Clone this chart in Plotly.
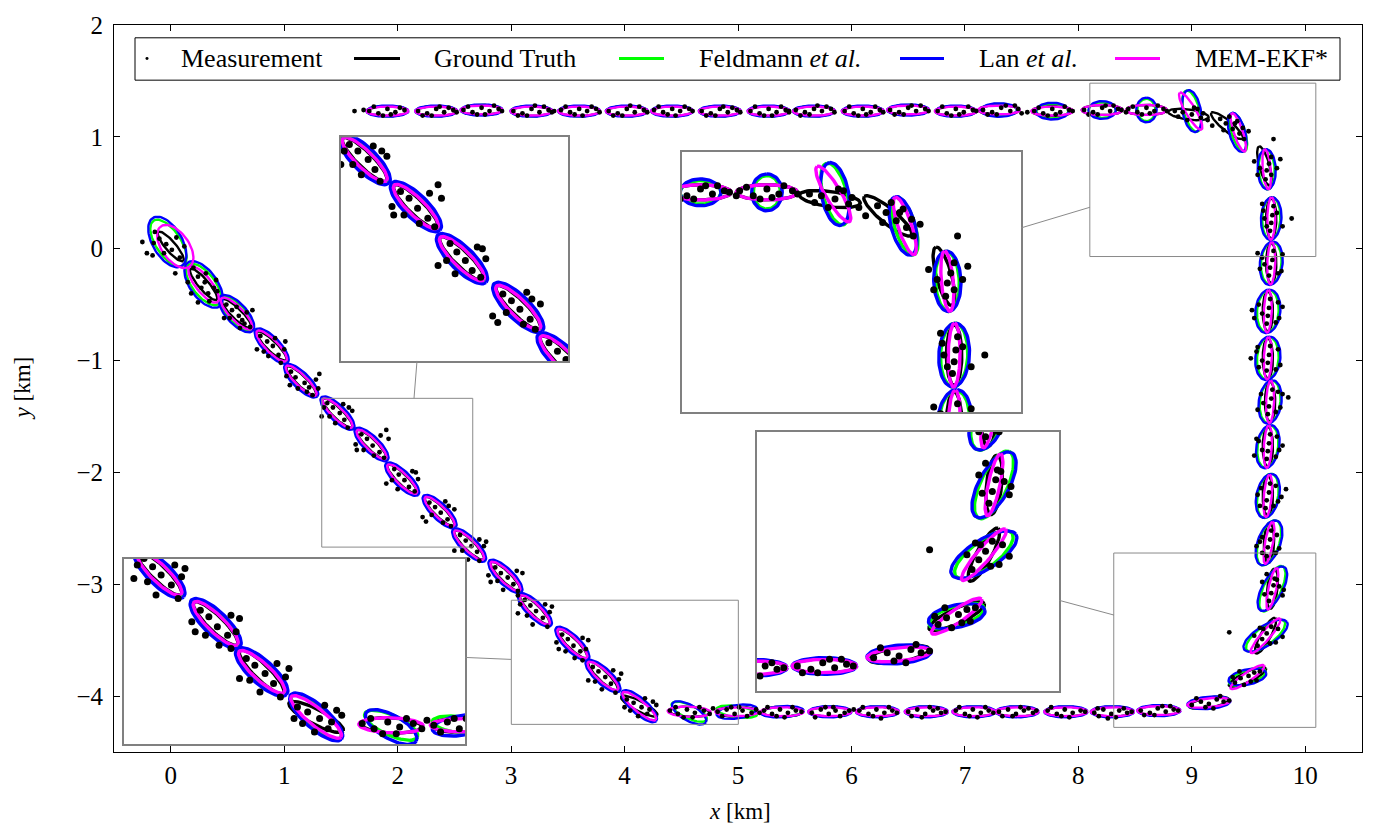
import numpy as np
import plotly.graph_objects as go

# ---------------- ground-truth track (one entry per time step) ----------------
gt_x = [0.00, 0.29, 0.58, 0.89, 1.15, 1.47, 1.77, 2.04, 2.37, 2.63, 2.95, 3.21, 3.54, 3.81, 4.13,
        4.57, 4.99, 5.39, 5.81, 6.23, 6.66, 7.08, 7.46, 7.89, 8.30, 8.71, 9.15,
        9.49, 9.65, 9.71, 9.68, 9.67, 9.67, 9.69, 9.67, 9.67, 9.70, 9.70, 9.64, 9.31, 8.97,
        8.60, 8.21, 7.77, 7.30, 6.92, 6.50, 6.10, 5.67, 5.27, 4.84, 4.42, 4.02, 3.60, 3.18, 2.74, 2.34, 1.91]
gt_y = [0.02, -0.32, -0.58, -0.87, -1.18, -1.47, -1.75, -2.06, -2.35, -2.65, -2.93, -3.23, -3.53, -3.82, -4.09,
        -4.14, -4.14, -4.14, -4.14, -4.14, -4.14, -4.14, -4.14, -4.14, -4.14, -4.13, -4.06,
        -3.83, -3.46, -3.04, -2.63, -2.21, -1.77, -1.37, -0.98, -0.56, -0.13, 0.27, 0.74, 1.10, 1.20,
        1.24, 1.24, 1.23, 1.24, 1.23, 1.24, 1.23, 1.23, 1.23, 1.23, 1.23, 1.23, 1.23, 1.23, 1.24, 1.23, 1.23]
gt_ang = [-50, -50, -45, -45, -45, -45, -45, -45, -45, -45, -45, -45, -45, -45, -28,
          -3, 0, 0, 0, 0, 0, 0, 0, 0, 0, 0, 10,
          25, 62, 84, 88, 90, 90, 90, 90, 90, 90, 90, 105, 140, 172,
          0, 0, 0, 0, 0, 0, 0, 0, 0, 0, 0, 0, 0, 0, 0, 0, 0]
gt_a = [0.17] + [0.18] * 57
gt_b = [0.045] * 58

# ---------------- Feldmann et al. ----------------
fel_a = ([0.24, 0.22, 0.20, 0.195, 0.195, 0.19, 0.19, 0.19, 0.19, 0.19, 0.19, 0.19, 0.19, 0.19, 0.19]
         + [0.17, 0.18, 0.18, 0.18, 0.18, 0.18, 0.18, 0.18, 0.18, 0.18, 0.18, 0.185]
         + [0.17, 0.21, 0.22, 0.21, 0.20, 0.19, 0.19, 0.19, 0.19, 0.19, 0.19, 0.18, 0.18, 0.19]
         + [0.10, 0.12, 0.14, 0.16, 0.175, 0.18, 0.18, 0.18, 0.18, 0.18, 0.18, 0.18, 0.18, 0.18, 0.18, 0.18, 0.18])
fel_b = ([0.11, 0.10, 0.08, 0.065, 0.065, 0.06, 0.06, 0.06, 0.06, 0.06, 0.06, 0.06, 0.06, 0.06, 0.06]
         + [0.06, 0.05, 0.045, 0.045, 0.045, 0.045, 0.045, 0.045, 0.045, 0.045, 0.045, 0.05]
         + [0.06, 0.08, 0.08, 0.09, 0.09, 0.09, 0.09, 0.095, 0.095, 0.09, 0.08, 0.07, 0.06, 0.07]
         + [0.08, 0.07, 0.065, 0.055, 0.045, 0.045, 0.045, 0.045, 0.045, 0.045, 0.045, 0.045, 0.045, 0.045, 0.045, 0.045, 0.045])
fel_ang = ([-57, -53, -47, -47, -45, -45, -45, -45, -45, -45, -45, -45, -45, -43, -42]
           + [-25, -8, 2, 0, 0, 0, 0, 0, 0, 0, 0, 6]
           + [18, 38, 66, 72, 80, 82, 84, 86, 86, 86, 88, 93, 107, 105]
           + [90, 0, 0, 0, 0, 0, 0, 0, 0, 0, 0, 0, 0, 0, 0, 0, 0])
fel_shift = {0: (-0.02, 0.03), 38: (0.02, -0.03), 39: (0.10, -0.06), 40: (0.03, 0.03)}

# ---------------- Lan et al. ----------------
lan_a = ([0.25, 0.24, 0.21, 0.205, 0.20, 0.20, 0.20, 0.20, 0.20, 0.20, 0.20, 0.20, 0.20, 0.20, 0.20]
         + [0.17, 0.18, 0.19, 0.19, 0.19, 0.19, 0.19, 0.19, 0.19, 0.19, 0.19, 0.19]
         + [0.17, 0.225, 0.22, 0.21, 0.20, 0.195, 0.195, 0.195, 0.195, 0.195, 0.19, 0.18, 0.18, 0.19]
         + [0.11, 0.12, 0.145, 0.16, 0.18, 0.185, 0.185, 0.185, 0.185, 0.185, 0.185, 0.185, 0.185, 0.185, 0.185, 0.185, 0.185])
lan_b = ([0.13, 0.12, 0.09, 0.075, 0.072, 0.07, 0.07, 0.07, 0.07, 0.07, 0.07, 0.07, 0.07, 0.07, 0.07]
         + [0.07, 0.06, 0.05, 0.05, 0.05, 0.05, 0.05, 0.05, 0.05, 0.05, 0.05, 0.055]
         + [0.068, 0.088, 0.09, 0.10, 0.10, 0.10, 0.10, 0.11, 0.11, 0.10, 0.09, 0.08, 0.07, 0.08]
         + [0.09, 0.08, 0.075, 0.06, 0.05, 0.05, 0.05, 0.05, 0.05, 0.05, 0.05, 0.05, 0.05, 0.05, 0.05, 0.05, 0.05])
lan_ang = ([-60, -55, -48, -47, -45, -45, -45, -45, -45, -45, -45, -45, -45, -43, -42]
           + [-30, 8, 3, 0, 0, 0, 0, 0, 0, 0, 0, 5]
           + [12, 33, 62, 70, 78, 80, 82, 84, 84, 84, 87, 92, 105, 100]
           + [90, 0, 0, 0, 0, 0, 0, 0, 0, 0, 0, 0, 0, 0, 0, 0, 0])
lan_shift = {0: (-0.03, 0.04), 15: (0.0, -0.01), 38: (0.02, -0.03), 39: (0.09, -0.06), 40: (0.03, 0.03)}

# ---------------- MEM-EKF* ----------------
mem_a = ([0.22, 0.20, 0.19, 0.185, 0.185, 0.18, 0.18, 0.18, 0.18, 0.18, 0.18, 0.18, 0.18, 0.18, 0.19]
         + [0.19, 0.19, 0.19, 0.19, 0.19, 0.19, 0.19, 0.19, 0.19, 0.19, 0.19, 0.19]
         + [0.18, 0.20, 0.19, 0.19, 0.19, 0.19, 0.19, 0.19, 0.19, 0.19, 0.19, 0.18, 0.18, 0.19]
         + [0.18, 0.18, 0.185, 0.185, 0.185, 0.185, 0.185, 0.185, 0.185, 0.185, 0.185, 0.185, 0.185, 0.185, 0.185, 0.185, 0.185])
mem_b = ([0.12, 0.07, 0.06, 0.055, 0.05, 0.05, 0.05, 0.05, 0.05, 0.05, 0.05, 0.05, 0.05, 0.05, 0.05]
         + [0.045, 0.04, 0.04, 0.04, 0.04, 0.04, 0.04, 0.04, 0.04, 0.04, 0.04, 0.04]
         + [0.04, 0.04, 0.035, 0.035, 0.035, 0.035, 0.035, 0.035, 0.035, 0.035, 0.035, 0.035, 0.04, 0.045]
         + [0.045, 0.045, 0.04, 0.04, 0.04, 0.04, 0.04, 0.04, 0.04, 0.04, 0.04, 0.04, 0.04, 0.04, 0.04, 0.04, 0.04])
mem_ang = ([-55, -52, -46, -46, -45, -45, -45, -45, -45, -45, -45, -45, -45, -43, -40]
           + [-2, 0, 0, 0, 0, 0, 0, 0, 0, 0, 0, 6]
           + [35, 50, 78, 80, 85, 87, 88, 88, 88, 88, 89, 95, 108, 120]
           + [0, 0, 0, 0, 0, 0, 0, 0, 0, 0, 0, 0, 0, 0, 0, 0, 0])
mem_shift = {0: (0.04, 0.0), 38: (0.02, -0.03), 39: (0.10, -0.06), 40: (0.02, 0.03)}

# ---------------- measurements ----------------
meas_x = [
    # diagonal leg
    -0.21, -0.16, -0.15, -0.04, 0.01, 0.05, 0.04, -0.10, 0.08, -0.06,
    0.20, 0.24, 0.30, 0.33, 0.27, 0.40, 0.18, 0.38, 0.31, 0.24,
    0.49, 0.54, 0.60, 0.63, 0.67, 0.52, 0.70, 0.58, 0.65,
    0.79, 0.85, 0.90, 0.95, 0.82, 1.00, 0.92, 0.86,
    1.06, 1.10, 1.18, 1.22, 1.02, 1.28, 1.20, 1.12, 1.30,
    1.38, 1.43, 1.49, 1.53, 1.40, 1.57, 1.45, 1.35, 1.52,
    1.68, 1.73, 1.78, 1.84, 1.70, 1.85, 1.63, 1.79, 1.90,
    1.97, 2.01, 2.06, 2.10, 1.95, 2.13, 2.00, 2.18,
    2.28, 2.33, 2.38, 2.44, 2.30, 2.45, 2.25, 2.40, 2.42,
    2.55, 2.60, 2.65, 2.70, 2.57, 2.72, 2.62, 2.76,
    2.86, 2.91, 2.97, 3.02, 2.88, 3.05, 2.93, 2.80, 3.06,
    3.12, 3.17, 3.22, 3.28, 3.14, 3.30, 3.19, 3.34, 3.08,
    3.45, 3.50, 3.55, 3.61, 3.48, 3.63, 3.56, 3.40, 3.66,
    3.72, 3.77, 3.83, 3.88, 3.74, 3.90, 3.80, 3.95,
    4.02, 4.08, 4.15, 4.22, 4.05, 4.18, 4.25, 4.12,
    # bottom leg
    4.40, 4.47, 4.55, 4.62, 4.70, 4.52, 4.66, 4.75,
    4.82, 4.90, 4.97, 5.04, 5.12, 4.94, 5.08, 5.16,
    5.23, 5.30, 5.37, 5.44, 5.51, 5.34, 5.48,
    5.65, 5.73, 5.80, 5.86, 5.94, 5.77, 5.90,
    6.07, 6.15, 6.22, 6.29, 6.36, 6.19, 6.33, 6.02,
    6.50, 6.58, 6.65, 6.72, 6.79, 6.62, 6.76,
    6.92, 7.00, 7.07, 7.14, 7.21, 7.04, 7.18,
    7.30, 7.38, 7.45, 7.52, 7.60, 7.42, 7.56,
    7.73, 7.81, 7.88, 7.95, 8.02, 7.85,
    8.14, 8.22, 8.29, 8.36, 8.43, 8.26, 8.40, 8.18,
    8.55, 8.63, 8.70, 8.77, 8.84, 8.67, 8.81,
    9.00, 9.08, 9.15, 9.22, 9.28, 9.12, 9.25,
    # right leg
    9.38, 9.43, 9.50, 9.55, 9.46, 9.60, 9.52,
    9.58, 9.62, 9.66, 9.70, 9.55, 9.76, 9.74, 9.33, 9.63,
    9.68, 9.70, 9.72, 9.73, 9.62, 9.80, 9.66, 9.77,
    9.66, 9.67, 9.69, 9.70, 9.60, 9.77, 9.62, 9.75,
    9.65, 9.66, 9.68, 9.69, 9.58, 9.76, 9.60, 9.74, 9.83,
    9.66, 9.67, 9.68, 9.69, 9.59, 9.77, 9.55, 9.75, 9.80,
    9.67, 9.68, 9.70, 9.71, 9.61, 9.78, 9.58, 9.76, 9.85,
    9.66, 9.67, 9.68, 9.69, 9.57, 9.78, 9.59, 9.76, 9.52,
    9.66, 9.67, 9.68, 9.69, 9.59, 9.77, 9.55, 9.76, 9.53,
    9.68, 9.69, 9.71, 9.72, 9.62, 9.79, 9.60, 9.80,
    9.69, 9.70, 9.71, 9.72, 9.63, 9.80, 9.66, 9.88,
    9.65, 9.66, 9.68, 9.70, 9.58, 9.75, 9.72, 9.55,
    9.25, 9.30, 9.36, 9.42, 9.40, 9.46, 9.50, 9.33,
    8.85, 8.92, 9.00, 9.08, 9.14, 9.05, 8.96, 9.18,
    # top leg
    8.44, 8.52, 8.60, 8.67, 8.75, 8.56, 8.70,
    8.05, 8.13, 8.21, 8.28, 8.35, 8.17, 8.31, 8.42,
    7.61, 7.69, 7.77, 7.84, 7.92, 7.73, 7.88,
    7.16, 7.24, 7.32, 7.40, 7.47, 7.28, 7.44, 7.55,
    6.76, 6.84, 6.92, 6.99, 7.07, 6.88, 7.03,
    6.34, 6.42, 6.50, 6.57, 6.65, 6.46, 6.61,
    5.94, 6.02, 6.10, 6.17, 6.25, 6.06, 6.21,
    5.51, 5.59, 5.67, 5.74, 5.82, 5.63, 5.78, 5.45,
    5.11, 5.19, 5.27, 5.34, 5.42, 5.23, 5.38,
    4.68, 4.76, 4.84, 4.91, 4.99, 4.80, 4.95,
    4.26, 4.34, 4.42, 4.49, 4.57, 4.38, 4.53,
    3.86, 3.94, 4.02, 4.09, 4.17, 3.98, 4.13,
    3.44, 3.52, 3.60, 3.67, 3.75, 3.56, 3.71, 3.38,
    3.02, 3.10, 3.18, 3.25, 3.33, 3.14, 3.29,
    2.58, 2.66, 2.74, 2.81, 2.89, 2.70, 2.85,
    2.18, 2.26, 2.34, 2.41, 2.49, 2.30, 2.45,
    1.75, 1.83, 1.91, 1.98, 2.06, 1.87, 2.02, 1.70,
    # wider scatter around each step
    -0.14, 0.12, -0.25, 0.15, 0.41, 0.34, 0.47, 0.72, 0.61, 0.76, 1.01, 0.97,
    1.05, 1.31, 1.25, 1.33, 1.60, 1.56, 1.64, 1.92, 1.88, 1.90, 2.16, 2.15,
    2.22, 2.50, 2.47, 2.50, 2.78, 2.72, 2.82, 3.10, 3.06, 3.06, 3.36, 3.32,
    3.42, 3.68, 3.63, 3.68, 3.97, 3.92, 4.00, 4.28, 4.20,
    4.45, 4.60, 4.78, 4.86, 5.01, 5.19, 5.26, 5.41, 5.56, 5.68, 5.84, 5.98,
    6.10, 6.26, 6.40, 6.53, 6.69, 6.83, 6.95, 7.11, 7.25, 7.33, 7.49, 7.63,
    7.76, 7.92, 8.06, 8.17, 8.33, 8.47, 8.58, 8.74, 8.88, 9.04, 9.19, 9.33,
    9.42, 9.57, 9.36, 9.60, 9.69, 9.80, 9.64, 9.75, 9.81, 9.62, 9.74, 9.57,
    9.72, 9.61, 9.79, 9.62, 9.74, 9.57, 9.74, 9.63, 9.80, 9.62, 9.74, 9.58,
    9.74, 9.62, 9.80, 9.64, 9.76, 9.58, 9.75, 9.64, 9.62, 9.70, 9.60, 9.78,
    9.28, 9.38, 9.45, 8.88, 9.02, 9.10,
    8.48, 8.63, 8.78, 8.09, 8.24, 8.38, 7.65, 7.80, 7.95, 7.20, 7.36, 7.50,
    6.80, 6.95, 7.10, 6.38, 6.53, 6.68, 5.98, 6.13, 6.28, 5.55, 5.70, 5.85,
    5.15, 5.30, 5.45, 4.72, 4.87, 5.02, 4.30, 4.45, 4.60, 3.90, 4.05, 4.20,
    3.48, 3.63, 3.78, 3.06, 3.21, 3.36, 2.62, 2.77, 2.92, 2.22, 2.37, 2.52,
    1.79, 1.94, 1.62,
]
meas_y = [
    # diagonal leg
    -0.04, -0.06, 0.05, 0.04, -0.01, 0.10, -0.22, 0.09, -0.08, -0.04,
    -0.17, -0.25, -0.30, -0.40, -0.35, -0.28, -0.40, -0.35, -0.22, -0.48,
    -0.50, -0.55, -0.60, -0.64, -0.57, -0.62, -0.70, -0.52, -0.67,
    -0.78, -0.83, -0.87, -0.95, -0.92, -0.90, -0.80, -0.96,
    -1.10, -1.15, -1.20, -1.24, -1.14, -1.17, -1.28, -1.25, -1.25,
    -1.38, -1.42, -1.47, -1.53, -1.50, -1.42, -1.56, -1.42, -1.39,
    -1.66, -1.70, -1.76, -1.82, -1.80, -1.67, -1.75, -1.85, -1.62,
    -1.97, -2.02, -2.07, -2.13, -2.07, -1.99, -2.15, -2.06,
    -2.27, -2.31, -2.36, -2.42, -2.38, -2.30, -2.44, -2.45, -2.26,
    -2.56, -2.61, -2.66, -2.71, -2.70, -2.60, -2.78, -2.66,
    -2.85, -2.90, -2.94, -3.00, -2.97, -2.88, -3.05, -2.92, -3.06,
    -3.14, -3.19, -3.24, -3.30, -3.28, -3.18, -3.36, -3.25, -3.18,
    -3.45, -3.49, -3.55, -3.60, -3.60, -3.48, -3.66, -3.52, -3.58,
    -3.74, -3.78, -3.83, -3.89, -3.87, -3.77, -3.94, -3.85,
    -4.03, -4.06, -4.10, -4.12, -4.13, -4.02, -4.05, -4.18,
    # bottom leg
    -4.13, -4.16, -4.12, -4.15, -4.13, -4.19, -4.10, -4.16,
    -4.14, -4.12, -4.16, -4.13, -4.15, -4.10, -4.18, -4.12,
    -4.13, -4.16, -4.12, -4.15, -4.13, -4.18, -4.10,
    -4.15, -4.12, -4.16, -4.13, -4.15, -4.10, -4.18,
    -4.13, -4.16, -4.12, -4.15, -4.13, -4.18, -4.10, -4.12,
    -4.14, -4.12, -4.16, -4.13, -4.15, -4.19, -4.11,
    -4.13, -4.16, -4.12, -4.15, -4.13, -4.18, -4.10,
    -4.14, -4.12, -4.16, -4.13, -4.15, -4.18, -4.11,
    -4.13, -4.16, -4.12, -4.15, -4.13, -4.18,
    -4.15, -4.12, -4.16, -4.13, -4.15, -4.20, -4.11, -4.18,
    -4.13, -4.15, -4.11, -4.14, -4.12, -4.17, -4.09,
    -4.08, -4.05, -4.07, -4.03, -4.05, -4.10, -4.00,
    # right leg
    -3.88, -3.84, -3.82, -3.79, -3.90, -3.78, -3.87,
    -3.55, -3.49, -3.44, -3.38, -3.46, -3.40, -3.52, -3.43, -3.40,
    -3.15, -3.08, -3.01, -2.95, -2.98, -3.10, -2.91, -3.02,
    -2.75, -2.67, -2.60, -2.52, -2.62, -2.68, -2.72, -2.56,
    -2.32, -2.25, -2.18, -2.10, -2.20, -2.26, -2.30, -2.12, -2.15,
    -1.88, -1.81, -1.74, -1.66, -1.72, -1.80, -1.85, -1.68, -1.76,
    -1.48, -1.41, -1.34, -1.26, -1.30, -1.42, -1.44, -1.28, -1.33,
    -1.09, -1.02, -0.95, -0.87, -0.92, -1.04, -1.06, -0.90, -0.98,
    -0.67, -0.60, -0.53, -0.45, -0.50, -0.62, -0.62, -0.48, -0.55,
    -0.24, -0.17, -0.10, -0.02, -0.08, -0.20, -0.18, -0.05,
    0.16, 0.23, 0.30, 0.38, 0.34, 0.20, 0.20, 0.27,
    0.62, 0.70, 0.76, 0.82, 0.66, 0.72, 0.98, 0.78,
    1.16, 1.12, 1.07, 1.03, 1.14, 0.98, 1.05, 1.18,
    1.23, 1.22, 1.20, 1.17, 1.15, 1.25, 1.15, 1.10,
    # top leg
    1.25, 1.22, 1.26, 1.23, 1.25, 1.20, 1.28,
    1.24, 1.22, 1.26, 1.23, 1.25, 1.20, 1.28, 1.22,
    1.23, 1.21, 1.25, 1.22, 1.24, 1.19, 1.27,
    1.24, 1.22, 1.26, 1.23, 1.25, 1.20, 1.28, 1.22,
    1.23, 1.21, 1.25, 1.22, 1.24, 1.19, 1.27,
    1.24, 1.22, 1.26, 1.23, 1.25, 1.20, 1.28,
    1.23, 1.21, 1.25, 1.22, 1.24, 1.19, 1.27,
    1.24, 1.22, 1.25, 1.23, 1.25, 1.20, 1.27, 1.22,
    1.23, 1.21, 1.25, 1.22, 1.24, 1.19, 1.27,
    1.23, 1.21, 1.25, 1.22, 1.24, 1.19, 1.26,
    1.24, 1.22, 1.25, 1.23, 1.25, 1.20, 1.27,
    1.23, 1.21, 1.25, 1.22, 1.24, 1.19, 1.27,
    1.24, 1.22, 1.25, 1.23, 1.25, 1.20, 1.27, 1.23,
    1.23, 1.21, 1.25, 1.22, 1.24, 1.19, 1.27,
    1.24, 1.22, 1.26, 1.23, 1.25, 1.20, 1.28,
    1.23, 1.21, 1.25, 1.22, 1.24, 1.19, 1.26,
    1.23, 1.21, 1.25, 1.22, 1.24, 1.19, 1.26, 1.24,
    # wider scatter around each step
    0.15, 0.02, 0.06, -0.30, -0.38, -0.47, -0.62, -0.55, -0.71, -0.90, -0.83, -1.02,
    -1.22, -1.12, -1.31, -1.50, -1.45, -1.60, -1.80, -1.70, -1.87, -2.10, -2.00, -2.17,
    -2.40, -2.33, -2.48, -2.70, -2.62, -2.79, -2.98, -2.90, -3.10, -3.26, -3.20, -3.38,
    -3.58, -3.50, -3.68, -3.86, -3.80, -3.97, -4.10, -4.08, -4.16,
    -4.10, -4.19, -4.11, -4.18, -4.10, -4.15, -4.10, -4.19, -4.14, -4.19, -4.10, -4.13,
    -4.10, -4.20, -4.15, -4.18, -4.10, -4.14, -4.10, -4.19, -4.15, -4.18, -4.10, -4.13,
    -4.10, -4.19, -4.14, -4.11, -4.19, -4.14, -4.17, -4.09, -4.13, -4.02, -4.11, -4.04,
    -3.78, -3.86, -3.83, -3.39, -3.53, -3.47, -3.09, -2.96, -3.05, -2.58, -2.72, -2.66,
    -2.30, -2.14, -2.22, -1.80, -1.86, -1.70, -1.46, -1.38, -1.30, -1.00, -1.08, -0.88,
    -0.66, -0.58, -0.52, -0.14, -0.22, -0.04, 0.32, 0.27, 0.40, 0.66, 0.72, 0.80,
    1.06, 1.12, 1.08, 1.18, 1.26, 1.21,
    1.27, 1.21, 1.23, 1.20, 1.28, 1.24, 1.26, 1.20, 1.23, 1.20, 1.28, 1.21,
    1.27, 1.20, 1.23, 1.20, 1.28, 1.23, 1.27, 1.20, 1.22, 1.19, 1.28, 1.22,
    1.27, 1.19, 1.23, 1.19, 1.27, 1.22, 1.27, 1.19, 1.23, 1.19, 1.28, 1.22,
    1.27, 1.19, 1.22, 1.19, 1.28, 1.22, 1.27, 1.20, 1.23, 1.19, 1.27, 1.22,
    1.27, 1.20, 1.23,
]

# ---------------- zoomed windows (data extent) and where they sit (paper) ----------------
zoom_windows = [
    # (x-range, y-range, x-domain, y-domain)
    ([1.331, 2.662], [-2.668, -1.338], [0.1819, 0.3638], [0.5379, 0.8455]),
    ([8.101, 10.093], [-0.070, 1.480], [0.4551, 0.7268], [0.4675, 0.8252]),
    ([8.312, 10.093], [-4.280, -2.721], [0.5152, 0.7572], [0.0840, 0.4404]),
    ([3.002, 5.003], [-4.253, -3.143], [0.0080, 0.2812], [0.0108, 0.2656]),
]

SERIF = "Liberation Serif"
GREEN, BLUE, MAGENTA = "#00ff00", "#0000ff", "#ff00ff"


def ellipse_path(cxs, cys, aa, bb, angs, shift=None):
    t = np.linspace(0, 2 * np.pi, 73)
    xs, ys = [], []
    for i, (cx, cy, a, b, ang) in enumerate(zip(cxs, cys, aa, bb, angs)):
        dx, dy = (shift or {}).get(i, (0.0, 0.0))
        th = np.deg2rad(ang)
        ex = cx + dx + a * np.cos(t) * np.cos(th) - b * np.sin(t) * np.sin(th)
        ey = cy + dy + a * np.cos(t) * np.sin(th) + b * np.sin(t) * np.cos(th)
        xs += list(ex) + [None]
        ys += list(ey) + [None]
    return xs, ys


paths = [
    (ellipse_path(gt_x, gt_y, gt_a, gt_b, gt_ang), "black", "Ground Truth"),
    (ellipse_path(gt_x, gt_y, fel_a, fel_b, fel_ang, fel_shift), GREEN, "Feldmann et al."),
    (ellipse_path(gt_x, gt_y, lan_a, lan_b, lan_ang, lan_shift), BLUE, "Lan et al."),
    (ellipse_path(gt_x, gt_y, mem_a, mem_b, mem_ang, mem_shift), MAGENTA, "MEM-EKF*"),
]

fig = go.Figure()
axes_sets = [("x", "y", 2.4, 4.8)] + [(f"x{k + 2}", f"y{k + 2}", 3.4, 7.0) for k in range(4)]
for xa, ya, lw, ms in axes_sets:
    for (px_, py_), col, name in paths:
        fig.add_trace(go.Scatter(x=px_, y=py_, mode="lines", name=name, showlegend=False,
                                 line=dict(color=col, width=lw), xaxis=xa, yaxis=ya,
                                 hoverinfo="skip"))
    fig.add_trace(go.Scatter(x=meas_x, y=meas_y, mode="markers", name="Measurement",
                             showlegend=False, marker=dict(color="black", size=ms, line=dict(width=0)),
                             xaxis=xa, yaxis=ya, hoverinfo="skip"))

tick_font = dict(family=SERIF, size=25, color="black")
main_axis = dict(showgrid=False, zeroline=False, showline=True, mirror="allticks",
                 linecolor="black", linewidth=1, ticks="inside", ticklen=6,
                 tickcolor="black", tickwidth=1, tickfont=tick_font)

layout = dict(
    width=1381, height=827,
    margin=dict(l=114, r=19, t=14, b=75),
    paper_bgcolor="white", plot_bgcolor="white",
    xaxis=dict(range=[-0.5, 10.5], tickvals=list(range(0, 11)), ticklabelstandoff=1, **main_axis),
    yaxis=dict(range=[-4.5, 2.0], tickvals=list(range(-4, 3)), ticklabelstandoff=5, **main_axis),
    showlegend=False,
)
for k, (xr, yr, xd, yd) in enumerate(zoom_windows):
    n = k + 2
    inset = dict(showgrid=False, zeroline=False, showticklabels=False, ticks="",
                 showline=True, mirror=True, linecolor="#808080", linewidth=2)
    layout[f"xaxis{n}"] = dict(range=xr, domain=xd, anchor=f"y{n}", **inset)
    layout[f"yaxis{n}"] = dict(range=yr, domain=yd, anchor=f"x{n}", **inset)
fig.update_layout(**layout)


def px(x):
    return (x - 114) / 1248


def py(y):
    return (752 - y) / 738


shapes = []
# outline of each zoomed region on the main axes
for xr, yr, _, _ in zoom_windows:
    shapes.append(dict(type="rect", xref="x", yref="y", x0=xr[0], x1=xr[1], y0=yr[0], y1=yr[1],
                       line=dict(color="#8a8a8a", width=1)))
# connectors between regions and their magnified views
for (x0, y0, x1, y1) in [(417, 355, 414, 393), (1021, 220, 1090, 199),
                         (1059, 598, 1114, 613), (465, 656, 511, 658)]:
    shapes.append(dict(type="line", xref="paper", yref="paper", x0=px(x0), y0=py(y0),
                       x1=px(x1), y1=py(y1), line=dict(color="#8a8a8a", width=1)))

# legend box
shapes.append(dict(type="rect", xref="paper", yref="paper", x0=px(135), x1=px(1340),
                   y0=py(70), y1=py(27), line=dict(color="black", width=1),
                   fillcolor="white", layer="above"))
ly = py(48)
shapes.append(dict(type="circle", xref="paper", yref="paper", x0=px(145.5), x1=px(148.5),
                   y0=py(49.5), y1=py(46.5), fillcolor="black", line=dict(width=0), layer="above"))
legend_items = [(354, 400, "black", 432, "Ground Truth"),
                (619, 664, GREEN, 697, "Feldmann <i>et al.</i>"),
                (900, 944, BLUE, 977, "Lan <i>et al.</i>"),
                (1115, 1160, MAGENTA, 1193, "MEM-EKF*")]
legend_font = dict(family=SERIF, size=26, color="black")
annotations = [dict(xref="paper", yref="paper", x=px(179), y=ly, xanchor="left", yanchor="middle",
                    text="Measurement", showarrow=False, font=legend_font)]
for x0, x1, col, tx, label in legend_items:
    shapes.append(dict(type="line", xref="paper", yref="paper", x0=px(x0), x1=px(x1), y0=ly, y1=ly,
                       line=dict(color=col, width=3), layer="above"))
    annotations.append(dict(xref="paper", yref="paper", x=px(tx), y=ly, xanchor="left",
                            yanchor="middle", text=label, showarrow=False, font=legend_font))

# axis titles
title_font = dict(family=SERIF, size=23, color="black")
annotations.append(dict(xref="paper", yref="paper", x=px(740), y=py(812), text="<i>x</i> [km]",
                        showarrow=False, xanchor="center", yanchor="middle", font=title_font))
annotations.append(dict(xref="paper", yref="paper", x=px(22), y=py(383), text="<i>y</i> [km]",
                        showarrow=False, xanchor="center", yanchor="middle", textangle=-90,
                        font=title_font))

fig.update_layout(shapes=shapes, annotations=annotations)
fig.write_html("out.html")
